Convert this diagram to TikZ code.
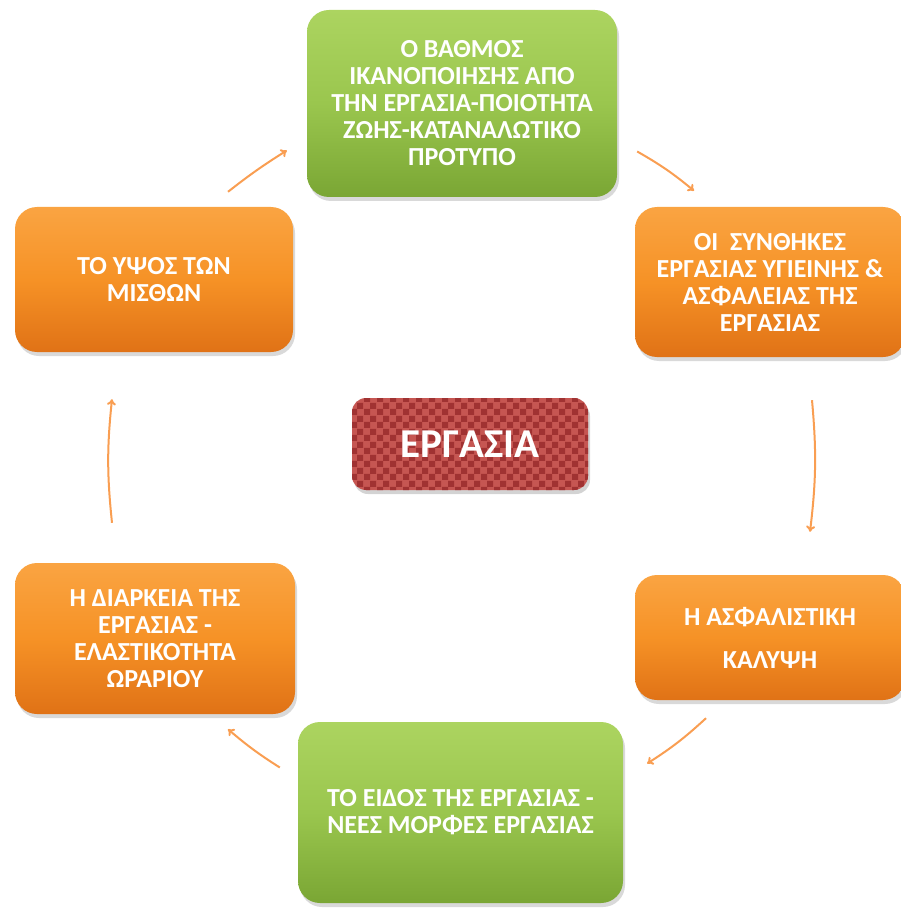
\documentclass[tikz,border=0pt]{standalone}
\usepackage{fontspec}
\setmainfont{Carlito}
\usetikzlibrary{shadows,patterns,arrows.meta}

\definecolor{jobgreen}{RGB}{154,198,78}
\definecolor{jobgreentop}{RGB}{172,212,96}
\definecolor{jobgreenbot}{RGB}{122,166,52}
\definecolor{joborange}{RGB}{246,146,38}
\definecolor{joborangetop}{RGB}{250,164,66}
\definecolor{joborangebot}{RGB}{224,114,22}
\definecolor{jobred}{RGB}{198,86,82}
\definecolor{jobreddark}{RGB}{160,50,50}
\definecolor{jobarrow}{RGB}{249,158,82}

\pgfdeclarepatternformonly{redchecks}{\pgfpointorigin}{\pgfqpoint{13pt}{13pt}}{\pgfqpoint{13pt}{13pt}}{%
  \pgfpathrectangle{\pgfpointorigin}{\pgfqpoint{6.5pt}{6.5pt}}%
  \pgfpathrectangle{\pgfqpoint{6.5pt}{6.5pt}}{\pgfqpoint{6.5pt}{6.5pt}}%
  \pgfusepath{fill}}

\begin{document}
\begin{tikzpicture}[x=1pt,y=-1pt]

%
% Styles
%
\tikzstyle{factor} = [rounded corners=22pt,inner sep=0pt,align=center,text=white,
                      font=\bfseries\fontsize{26}{27}\selectfont,
                      drop shadow={shadow xshift=2pt,shadow yshift=-4pt,opacity=0.3}]
\tikzstyle{orangebox} = [factor,top color=joborangetop,bottom color=joborangebot,middle color=joborange]
\tikzstyle{greenbox}  = [factor,top color=jobgreentop,bottom color=jobgreenbot,middle color=jobgreen]
\tikzstyle{core}   = [rounded corners=14pt,inner sep=0pt,text=white,
                      font=\bfseries\fontsize{41}{41}\selectfont,
                      drop shadow={shadow xshift=2pt,shadow yshift=-4pt,opacity=0.35},
                      preaction={fill=jobred},pattern=redchecks,pattern color=jobreddark]

\tikzstyle{flow}   = [-{To[length=6pt,width=9pt]},draw=jobarrow,line width=2pt]

\useasboundingbox (0,0) rectangle (900,909);

\node[greenbox,minimum width=310pt,minimum height=187pt]  (vathmos)    at (462,103.5)
  {Ο ΒΑΘΜΟΣ\\ΙΚΑΝΟΠΟΙΗΣΗΣ ΑΠΟ\\ΤΗΝ ΕΡΓΑΣΙΑ-ΠΟΙΟΤΗΤΑ\\ΖΩΗΣ-ΚΑΤΑΝΑΛΩΤΙΚΟ\\ΠΡΟΤΥΠΟ};
\node[orangebox,minimum width=270pt,minimum height=150pt] (synthikes)  at (770,282)
  {ΟΙ \ ΣΥΝΘΗΚΕΣ\\ΕΡΓΑΣΙΑΣ ΥΓΙΕΙΝΗΣ \&\\ΑΣΦΑΛΕΙΑΣ ΤΗΣ\\ΕΡΓΑΣΙΑΣ};
\node[orangebox,minimum width=270pt,minimum height=125pt] (asfalistiki) at (770,637.5)
  {Η ΑΣΦΑΛΙΣΤΙΚΗ\\[16pt]ΚΑΛΥΨΗ};
\node[greenbox,minimum width=325pt,minimum height=181pt]  (eidos)      at (460.5,812.5)
  {ΤΟ ΕΙΔΟΣ ΤΗΣ ΕΡΓΑΣΙΑΣ -\\ΝΕΕΣ ΜΟΡΦΕΣ ΕΡΓΑΣΙΑΣ};
\node[orangebox,minimum width=280pt,minimum height=151pt] (diarkeia)   at (155,638.5)
  {Η ΔΙΑΡΚΕΙΑ ΤΗΣ\\ΕΡΓΑΣΙΑΣ -\\ΕΛΑΣΤΙΚΟΤΗΤΑ\\ΩΡΑΡΙΟΥ};
\node[orangebox,minimum width=278pt,minimum height=145pt] (ypsos)      at (154,279.5)
  {ΤΟ ΥΨΟΣ ΤΩΝ\\ΜΙΣΘΩΝ};

\node[core,minimum width=236pt,minimum height=92pt] (ergasia) at (470,444) {ΕΡΓΑΣΙΑ};

\draw[flow] ([shift={(74,-15)}]ypsos.north)      to[bend left=3]  ([shift={(-20,47)}]vathmos.west);
\draw[flow] ([shift={(20,48)}]vathmos.east)      to[bend left=5]  ([shift={(-76,-16)}]synthikes.north);
\draw[flow] ([shift={(42,43)}]synthikes.south)   to[bend left=6]  ([shift={(40,-43)}]asfalistiki.north);
\draw[flow] ([shift={(-64,18)}]asfalistiki.south) to[bend left=5] ([shift={(24,-49)}]eidos.east);
\draw[flow] ([shift={(-18,-45)}]eidos.west)      to[bend left=4]  ([shift={(73,15)}]diarkeia.south);
\draw[flow] ([shift={(-43,-40)}]diarkeia.north)  to[bend left=6]  ([shift={(-42,47)}]ypsos.south);

\end{tikzpicture}
\end{document}
